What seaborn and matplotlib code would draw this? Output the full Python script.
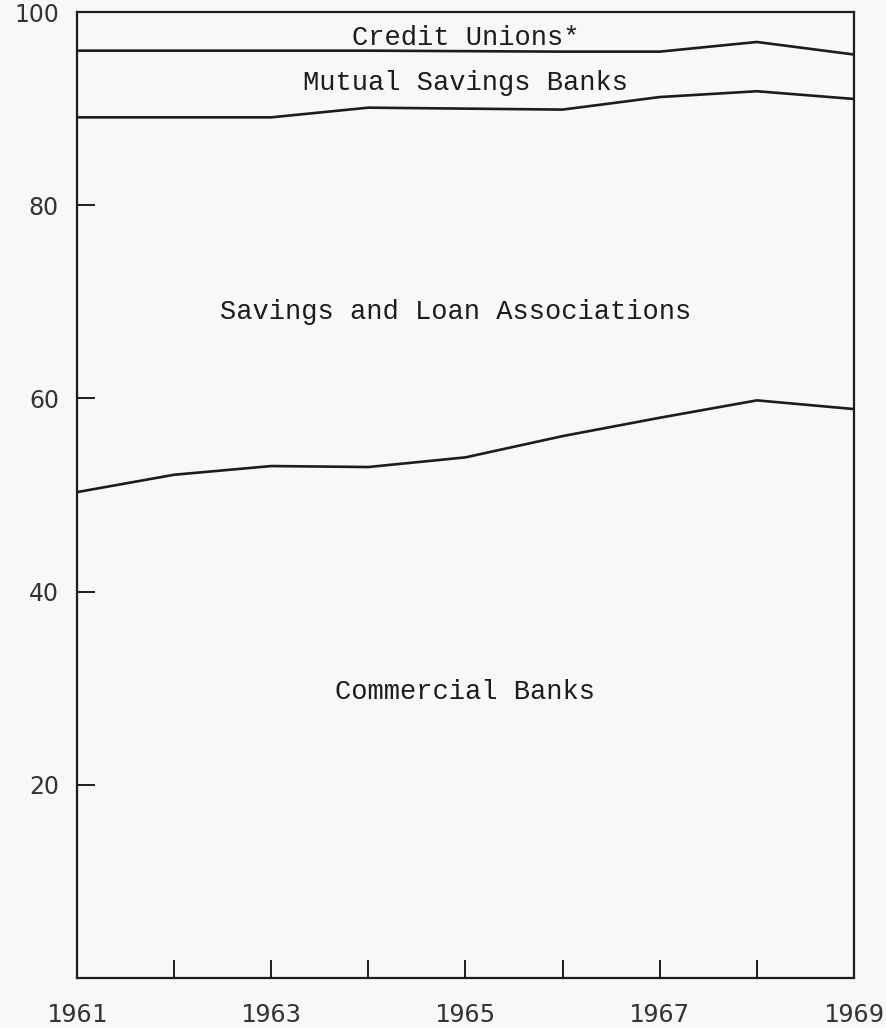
import numpy as np
import pandas as pd
import seaborn as sns
import matplotlib.pyplot as plt

years = [1961, 1962, 1963, 1964, 1965, 1966, 1967, 1968, 1969]
# share of mortgage loans held, percent
commercial_banks = [50.3, 52.1, 53.0, 52.9, 53.9, 56.1, 58.0, 59.8, 58.9]
savings_and_loan = [38.8, 37.0, 36.1, 37.2, 36.1, 33.8, 33.2, 32.0, 32.1]
mutual_savings = [6.9, 6.9, 6.9, 5.9, 5.95, 6.0, 4.7, 5.1, 4.6]
credit_unions = [4.0, 4.0, 4.0, 4.0, 4.05, 4.1, 4.1, 3.1, 4.4]

labels = ["Commercial Banks", "Savings and Loan Associations",
          "Mutual Savings Banks", "Credit Unions*"]
label_pos = [(1965, 29.6), (1964.9, 68.9), (1965, 92.7), (1965, 97.3)]

tick_labels = ["1961", "", "1963", "", "1965", "", "1967", "", "1969"]

shares = np.array([commercial_banks, savings_and_loan, mutual_savings, credit_unions])
cum = np.cumsum(shares, axis=0)

df = pd.DataFrame({"year": np.tile(years, 4),
                   "value": cum.ravel(),
                   "group": np.repeat(labels, len(years))})

sns.set_style("white")
ink = "#1c1c1c"
bg = "#f8f8f8"

fig = plt.figure(figsize=(8.87, 10.28), dpi=100, facecolor=bg)
ax = fig.add_axes([0.0868, 0.0486, 0.8760, 0.9397])
ax.set_facecolor(bg)

# the top line (100 %) is the frame itself
for g in labels[:-1]:
    sub = df[df["group"] == g]
    sns.lineplot(data=sub, x="year", y="value", ax=ax, color=ink,
                 linewidth=1.9, legend=False)

for txt, (x, y) in zip(labels, label_pos):
    ax.text(x, y, txt, ha="center", va="center", fontsize=19.5,
            family="Liberation Mono", color=ink)

ax.set_xlim(1961, 1969)
ax.set_ylim(0, 100)
ax.set_xticks(years)
ax.set_xticklabels(tick_labels, family="DejaVu Sans Mono", fontsize=18.3, color="#333333")
ax.set_yticks([20, 40, 60, 80, 100])
ax.set_yticklabels(["20", "40", "60", "80", "100"], family="DejaVu Sans", fontsize=17, color="#333333")
ax.tick_params(axis="x", bottom=True, direction="in", length=13, width=1.4, color=ink, pad=18)
ax.tick_params(axis="y", left=True, direction="in", length=13, width=1.4, color=ink, pad=13)
ax.set_xlabel("")
ax.set_ylabel("")
for s in ax.spines.values():
    s.set_visible(True)
    s.set_color(ink)
    s.set_linewidth(1.6)

fig.savefig("out.png", dpi=100, facecolor=bg)
